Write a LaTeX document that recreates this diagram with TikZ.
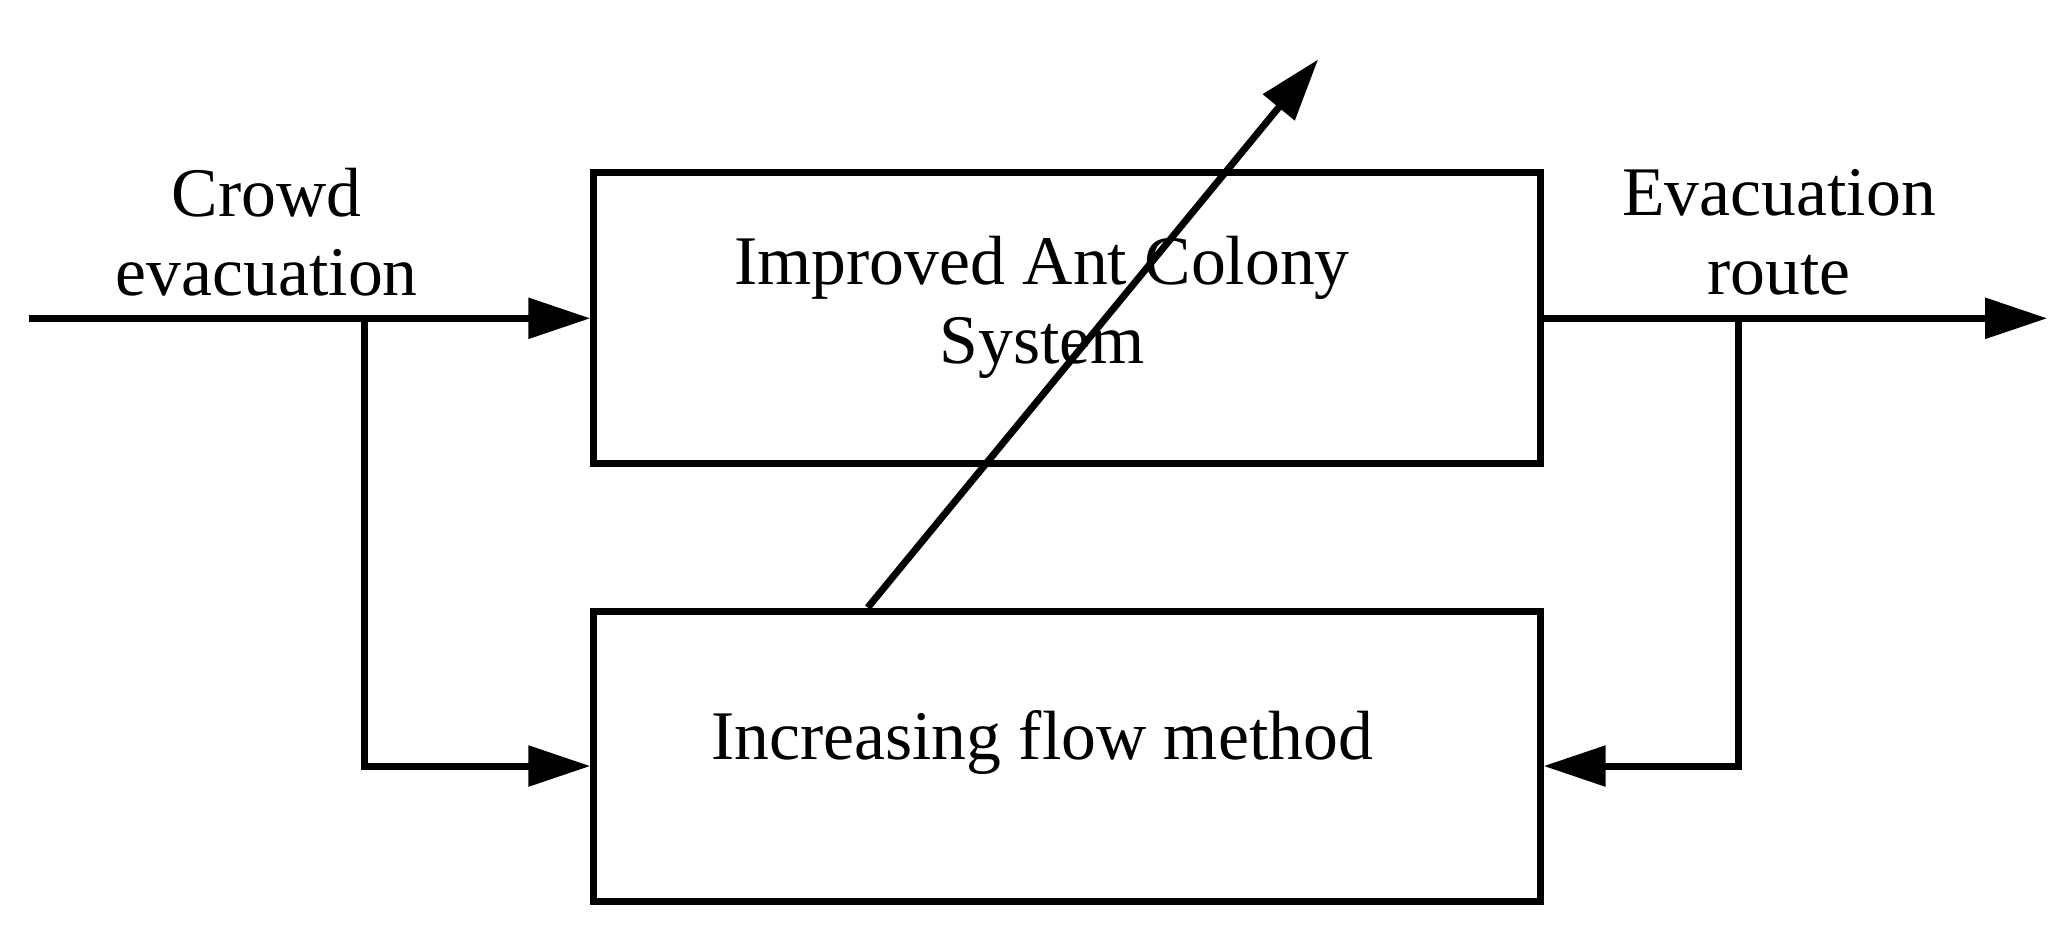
\documentclass[tikz,border=0pt]{standalone}
\usepackage{fontspec}
\setmainfont{Liberation Serif}
\usetikzlibrary{arrows.meta}
\begin{document}
\begin{tikzpicture}[x=0.01cm,y=-0.01cm,
  box/.style={draw,line width=1.5pt,minimum width=7.16cm,minimum height=2.2cm,anchor=north west,inner sep=0},
  con/.style={line width=1.5pt,-{Triangle[length=0.47cm,width=0.3cm]}},
  lbl/.style={font=\fontsize{15}{17}\selectfont,align=center}]
\useasboundingbox (0,0) rectangle (1568,710);
\node[box] (b1) at (447,128) {};
\node[box] (b2) at (447,460) {};
\node[lbl] (t1) at (789,233) {Improved Ant Colony\\System};
\node[lbl] (t2) at (789,562) {Increasing flow method};
\node[lbl] (in) at (202,176) {Crowd\\evacuation};
\node[lbl] (out) at (1347,176) {Evacuation\\route};
\coordinate (s) at (22,241);
\coordinate (j1) at (276,241);
\coordinate (e) at (1550,241);
\coordinate (j2) at (1316,241);
\coordinate (d1) at (657,460);
\coordinate (d2) at (998,45);
\draw[con] (s) -- (b1.west |- s);
\draw[con] (j1) |- (b2.west |- 0,580);
\draw[con] (b1.east |- e) -- (e);
\draw[con] (j2) |- (b2.east |- 0,580);
\draw[con] (d1) -- (d2);
\end{tikzpicture}
\end{document}
